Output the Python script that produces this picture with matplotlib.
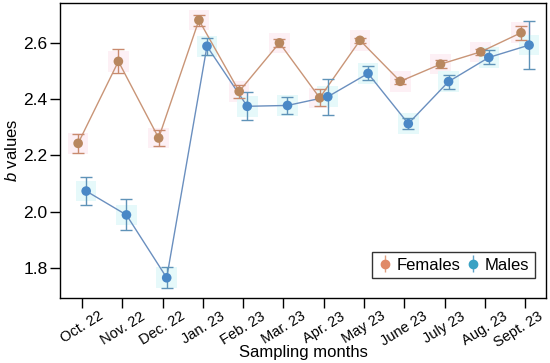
import matplotlib
matplotlib.use("Agg")
import matplotlib.pyplot as plt
import matplotlib.transforms as mtransforms
import numpy as np

plt.rcParams['font.family'] = ['Liberation Sans', 'DejaVu Sans']
plt.rcParams['mathtext.fontset'] = 'custom'
plt.rcParams['mathtext.it'] = 'Liberation Sans:italic'
plt.rcParams['mathtext.rm'] = 'Liberation Sans'

months = ["Oct. 22", "Nov. 22", "Dec. 22", "Jan. 23", "Feb. 23", "Mar. 23",
          "Apr. 23", "May 23", "June 23", "July 23", "Aug. 23", "Sept. 23"]
females = [2.243, 2.535, 2.262, 2.682, 2.428, 2.601, 2.405, 2.610, 2.464, 2.525, 2.569, 2.637]
females_err = [0.035, 0.043, 0.030, 0.020, 0.022, 0.015, 0.030, 0.010, 0.010, 0.015, 0.010, 0.025]
males = [2.073, 1.988, 1.764, 2.589, 2.375, 2.378, 2.409, 2.492, 2.313, 2.463, 2.549, 2.593]
males_err = [0.050, 0.055, 0.037, 0.030, 0.050, 0.030, 0.065, 0.025, 0.020, 0.025, 0.025, 0.085]

fig = plt.figure(figsize=(5.5, 3.63), dpi=100)
ax = fig.add_axes([60/550, 1-298/363, 486/550, 295/363])

x = np.arange(len(months))
off = 0.1
# pale halo squares behind points
ax.scatter(x - off, females, s=220, marker='s', color='#fdf0f5', zorder=1, edgecolors='none')
ax.scatter(x + off, males, s=220, marker='s', color='#e6f9fa', zorder=1, edgecolors='none')

ax.plot(x - off, females, color='#c99577', lw=1.0, zorder=2)
ax.plot(x + off, males, color='#6a8fbf', lw=1.0, zorder=2)
ax.errorbar(x - off, females, yerr=females_err, fmt='none', ecolor='#c98a6e', elinewidth=1.0,
            capsize=4, capthick=1.0, zorder=3)
ax.errorbar(x + off, males, yerr=males_err, fmt='none', ecolor='#5f93b8', elinewidth=1.0,
            capsize=4, capthick=1.0, zorder=3)
ax.scatter(x - off, females, s=48, color='#b8875f', zorder=4, edgecolors='none')
ax.scatter(x + off, males, s=48, color='#4a88c6', zorder=4, edgecolors='none')

hf = ax.errorbar([], [], yerr=[], fmt='o', color='#e08a68', ecolor='#e0a080', ms=6, capsize=4, elinewidth=1.0)
hm = ax.errorbar([], [], yerr=[], fmt='o', color='#3aa2c4', ecolor='#5fa3c8', ms=6, capsize=4, elinewidth=1.0)
leg = ax.legend([hf, hm], ["Females", "Males"], ncol=2, loc='lower right',
                bbox_to_anchor=(0.985, 0.055), fontsize=12, frameon=True, fancybox=False,
                handlelength=0.8, handletextpad=0.3, columnspacing=0.4, borderpad=0.35,
                borderaxespad=0.2)
leg.get_frame().set_edgecolor('black')
leg.get_frame().set_linewidth(1.0)

ax.set_xlim(-0.55, 11.52)
ax.set_ylim(1.692, 2.743)
ax.set_yticks([1.8, 2.0, 2.2, 2.4, 2.6])
ax.set_yticklabels(["1.8", "2.0", "2.2", "2.4", "2.6"])
ax.set_xticks(x)
ax.set_xticklabels(months, rotation=32, ha='center')
ax.tick_params(axis='both', direction='out', length=7, width=1.0, colors='black')
ax.tick_params(axis='y', pad=2, labelsize=12.5)
ax.tick_params(axis='x', pad=1, labelsize=10.5)
for s in ax.spines.values():
    s.set_linewidth(1.0)

# nudge the last tick label left so it stays inside the figure
last = ax.get_xticklabels()[-1]
last.set_transform(last.get_transform() +
                   mtransforms.ScaledTranslation(-5/72, 0, fig.dpi_scale_trans))

ax.set_xlabel("Sampling months", fontsize=12)
ax.xaxis.set_label_coords(0.5, -(352-298)/295, transform=ax.transAxes)
ax.xaxis.label.set_va('center')
ax.set_ylabel(r"$\it{b}$ values", fontsize=12)
ax.yaxis.set_label_coords(-(60-12)/486, 0.5, transform=ax.transAxes)
ax.yaxis.label.set_va('center')

fig.savefig("out.png", dpi=100)
